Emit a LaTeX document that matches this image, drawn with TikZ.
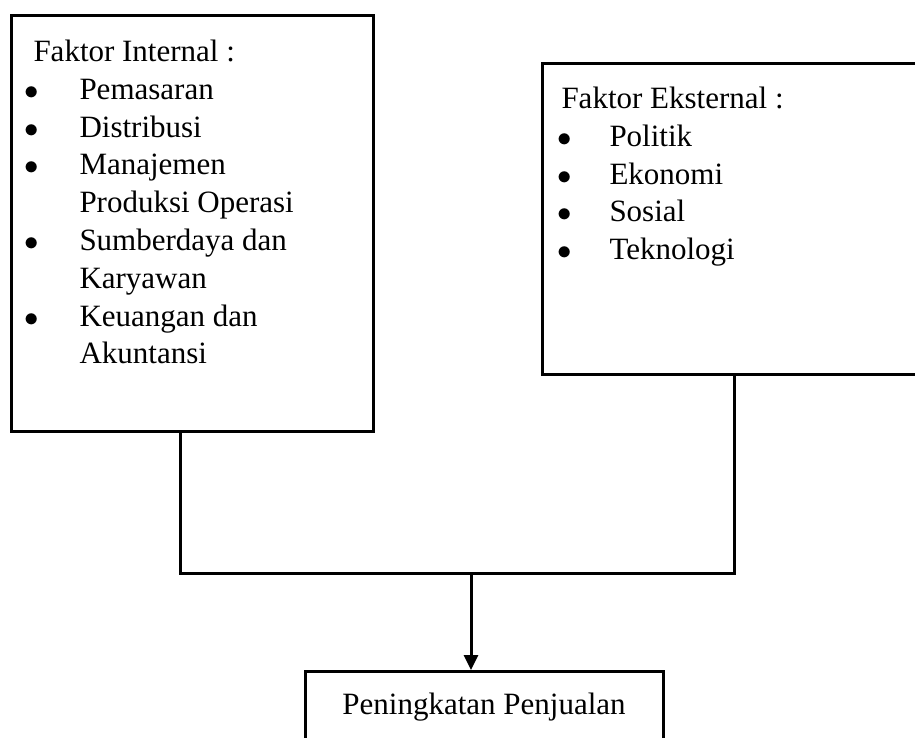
\documentclass[tikz,border=0pt]{standalone}
\usepackage{fontspec}
\setmainfont{Liberation Serif}
\usetikzlibrary{positioning,arrows.meta}
\tikzset{factor node/.style={rectangle,draw,line width=1.5pt,anchor=north west,inner xsep=9pt,inner ysep=0pt}}
\tikzset{result node/.style={rectangle,draw,line width=1.5pt,anchor=north,inner sep=0pt,minimum width=179pt,text height=21.5pt,text depth=23.5pt}}
\newcommand{\bul}[1]{\makebox[#1][l]{\hspace*{-2.5pt}$\bullet$}}

\begin{document}
\begin{tikzpicture}[x=0.5pt,y=-0.5pt,font=\fontsize{15.5pt}{18.9pt}\selectfont]
    \useasboundingbox (0,0) rectangle (915,738);

    \node[factor node] (internal) at (10,14) {\parbox[t][208pt][t]{163pt}{\raggedright
        \rule{0pt}{23pt}\hspace*{2pt}Faktor Internal :\\
        \bul{25pt}Pemasaran\\
        \bul{25pt}Distribusi\\
        \bul{25pt}Manajemen\\
        \hspace*{25pt}Produksi Operasi\\
        \bul{25pt}Sumberdaya dan\\
        \hspace*{25pt}Karyawan\\
        \bul{25pt}Keuangan dan\\
        \hspace*{25pt}Akuntansi}};
    \node[factor node] (eksternal) at (541,62) {\parbox[t][155.5pt][t]{174pt}{\raggedright
        \rule{0pt}{22.5pt}\hspace*{0.5pt}Faktor Eksternal :\\
        \hspace*{1pt}\bul{23.5pt}Politik\\
        \hspace*{1pt}\bul{23.5pt}Ekonomi\\
        \hspace*{1pt}\bul{23.5pt}Sosial\\
        \hspace*{1pt}\bul{23.5pt}Teknologi}};
    \node[result node] (penjualan) at (484,670) {Peningkatan Penjualan};

    \coordinate (junction) at (471,573);
    \draw[line width=1.5pt] ([xshift=-6pt]internal.south) |- (junction) -| (eksternal.south);
    \draw[line width=1.5pt,-{Triangle[length=7.5pt,width=7pt]}] (junction) -- (junction |- penjualan.north);
\end{tikzpicture}
\end{document}
